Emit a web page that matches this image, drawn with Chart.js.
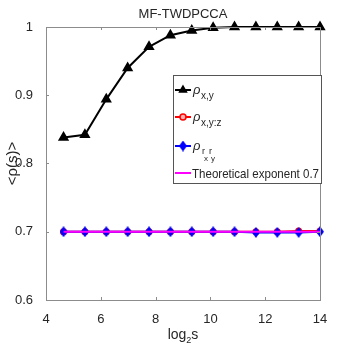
<!DOCTYPE html>
<html>
<head>
<meta charset="utf-8">
<script src="https://cdn.jsdelivr.net/npm/chart.js@4/dist/chart.umd.min.js"></script>
<style>
  html, body { margin: 0; padding: 0; background: #fff; }
  canvas { display: block; }
</style>
</head>
<body>
<canvas id="chart" width="354" height="354"></canvas>
<script>
// log2 of the scale s
const logScale = [4.64, 5.42, 6.20, 6.98, 7.76, 8.54, 9.32, 10.10, 10.88, 11.66, 12.44, 13.22, 14.0];
// <rho(s)> for each pair
const rhoXY = [0.838, 0.842, 0.894, 0.940, 0.971, 0.988, 0.995, 0.999, 1.0, 1.0, 1.0, 1.0, 1.0];
const rhoXYZ = [0.700, 0.700, 0.700, 0.700, 0.700, 0.700, 0.700, 0.700, 0.700, 0.700, 0.700, 0.701, 0.701];
const rhoRxRy = [0.700, 0.700, 0.700, 0.700, 0.700, 0.700, 0.700, 0.700, 0.700, 0.699, 0.699, 0.699, 0.700];
const theoretical = [0.7, 0.7, 0.7, 0.7, 0.7, 0.7, 0.7, 0.7, 0.7, 0.7, 0.7, 0.7, 0.7];

const yTicks = [0.6, 0.7, 0.8, 0.9, 1];
const xTicks = [4, 6, 8, 10, 12, 14];

const FONT = '"Liberation Sans", Arial, sans-serif';
const AXIS_GREY = '#8c8c8c';
const TEXT = '#262626';

const toPoints = (ys) => ys.map((y, i) => ({ x: logScale[i], y }));

// matlab's 'd' marker is taller than wide
function tallDiamond(w, h, color) {
  const c = document.createElement('canvas');
  c.width = w; c.height = h;
  const g = c.getContext('2d');
  g.fillStyle = color;
  g.beginPath();
  g.moveTo(w / 2, 0); g.lineTo(w, h / 2); g.lineTo(w / 2, h); g.lineTo(0, h / 2);
  g.closePath();
  g.fill();
  return c;
}
const blueDiamond = tallDiamond(8, 11, '#0000ff');

// text squeezed to a max width (matlab fonts run narrow)
function fitText(ctx, txt, x, y, maxW) {
  const w = ctx.measureText(txt).width;
  if (w <= maxW) { ctx.fillText(txt, x, y); return; }
  ctx.save();
  ctx.translate(x, y);
  ctx.scale(maxW / w, 1);
  ctx.fillText(txt, 0, 0);
  ctx.restore();
}

// box, inner ticks, titles and legend like the MATLAB figure
const matlabFrame = {
  id: 'matlabFrame',
  afterDraw(chart) {
    const { ctx, chartArea: a, scales } = chart;
    ctx.save();
    ctx.strokeStyle = AXIS_GREY;
    ctx.lineWidth = 1;
    ctx.strokeRect(a.left + 0.5, a.top + 0.5, a.right - a.left, a.bottom - a.top);
    ctx.beginPath();
    xTicks.forEach((v) => {
      const px = Math.round(scales.x.getPixelForValue(v)) + 0.5;
      ctx.moveTo(px, a.bottom); ctx.lineTo(px, a.bottom - 3);
      ctx.moveTo(px, a.top); ctx.lineTo(px, a.top + 3);
    });
    yTicks.forEach((v) => {
      const py = Math.round(scales.y.getPixelForValue(v)) + 0.5;
      ctx.moveTo(a.left, py); ctx.lineTo(a.left + 3, py);
      ctx.moveTo(a.right, py); ctx.lineTo(a.right - 3, py);
    });
    ctx.stroke();

    // title
    const cx = (a.left + a.right) / 2;
    ctx.fillStyle = TEXT;
    ctx.textAlign = 'center';
    ctx.textBaseline = 'middle';
    ctx.font = `13px ${FONT}`;
    ctx.fillText('MF-TWDPCCA', cx, 14);

    // x title log2s
    ctx.textAlign = 'left';
    ctx.textBaseline = 'alphabetic';
    ctx.font = `14px ${FONT}`;
    const w1 = ctx.measureText('log').width;
    ctx.font = `9px ${FONT}`;
    const w2 = ctx.measureText('2').width;
    ctx.font = `14px ${FONT}`;
    const w3 = ctx.measureText('s').width;
    const xs = cx - (w1 + w2 + w3) / 2;
    ctx.fillText('log', xs, 339);
    ctx.font = `9px ${FONT}`;
    ctx.fillText('2', xs + w1, 343);
    ctx.font = `14px ${FONT}`;
    ctx.fillText('s', xs + w1 + w2, 339);

    // y title
    ctx.save();
    ctx.translate(17, (a.top + a.bottom) / 2);
    ctx.rotate(-Math.PI / 2);
    ctx.textAlign = 'center';
    ctx.textBaseline = 'alphabetic';
    ctx.font = `15px ${FONT}`;
    ctx.fillText('<\u03C1(s)>', 0, 0);
    ctx.restore();

    // legend
    const lx = 173, ly = 75, lw = 148, lh = 108;
    ctx.fillStyle = '#fff';
    ctx.fillRect(lx, ly, lw, lh);
    ctx.strokeStyle = '#555';
    ctx.strokeRect(lx + 0.5, ly + 0.5, lw, lh);

    const items = [
      { color: '#000', style: 'triangle', r: 4, y: 90 },
      { color: '#ff0000', style: 'circle', r: 3, y: 117 },
      { color: '#0000ff', style: blueDiamond, r: 4, y: 146 },
      { color: '#ff00ff', style: null, y: 173 },
    ];
    items.forEach((it) => {
      ctx.strokeStyle = it.color;
      ctx.lineWidth = 2;
      ctx.beginPath();
      ctx.moveTo(175, it.y); ctx.lineTo(191, it.y);
      ctx.stroke();
      if (it.style) {
        const opts = { pointStyle: it.style, radius: it.r, borderWidth: 1.5, rotation: 0 };
        ctx.fillStyle = it.style === 'circle' ? '#ffb0b0' : it.color;
        ctx.lineWidth = 1.5;
        Chart.helpers.drawPoint(ctx, opts, 183, it.y);
      }
    });

    ctx.fillStyle = TEXT;
    ctx.textAlign = 'left';
    ctx.textBaseline = 'alphabetic';
    const rho = (y) => {
      ctx.font = `italic 13px ${FONT}`;
      ctx.fillText('\u03C1', 193, y);
    };
    rho(94);
    ctx.font = `10px ${FONT}`;
    ctx.fillText('x,y', 201, 99);
    rho(121);
    ctx.font = `10px ${FONT}`;
    ctx.fillText('x,y:z', 201, 126);
    rho(150);
    ctx.font = `9px ${FONT}`;
    ctx.fillText('r', 202, 154);
    ctx.fillText('r', 209, 154);
    ctx.font = `8px ${FONT}`;
    ctx.fillText('x', 204, 161);
    ctx.fillText('y', 211, 161);
    ctx.font = `13px ${FONT}`;
    fitText(ctx, 'Theoretical exponent 0.7', 192, 178, 127);
    ctx.restore();
  },
};

const config = {
  type: 'line',
  data: {
    datasets: [
      {
        label: 'rho x,y',
        data: toPoints(rhoXY),
        borderColor: '#000',
        backgroundColor: '#000',
        borderWidth: 2,
        pointStyle: 'triangle',
        pointRadius: 4.5,
        clip: false,
        order: 3,
      },
      {
        label: 'rho x,y:z',
        data: toPoints(rhoXYZ),
        borderColor: '#ff0000',
        backgroundColor: '#ff0000',
        borderWidth: 2,
        pointStyle: 'circle',
        pointRadius: 2.5,
        order: 2,
      },
      {
        label: 'rho rx ry',
        data: toPoints(rhoRxRy),
        borderColor: '#0000ff',
        backgroundColor: '#0000ff',
        borderWidth: 2,
        pointStyle: blueDiamond,
        pointRadius: 4.5,
        clip: false,
        order: 1,
      },
      {
        label: 'Theoretical exponent 0.7',
        data: toPoints(theoretical),
        borderColor: '#ff00ff',
        borderWidth: 2,
        pointRadius: 0,
        order: 0,
      },
    ],
  },
  options: {
    responsive: false,
    animation: false,
    devicePixelRatio: 1,
    layout: { padding: { top: 27, right: 34, left: 0, bottom: 0 } },
    plugins: { legend: { display: false }, tooltip: { enabled: false }, title: { display: false } },
    elements: { line: { tension: 0 } },
    scales: {
      x: {
        type: 'linear',
        min: 4,
        max: 14,
        ticks: { stepSize: 2, color: TEXT, font: { family: FONT, size: 13 }, padding: 4, maxRotation: 0 },
        grid: { display: false },
        border: { display: false },
        afterFit: (s) => { s.height = 54; },
      },
      y: {
        min: 0.6,
        max: 1,
        ticks: {
          stepSize: 0.1,
          color: TEXT,
          font: { family: FONT, size: 13 },
          padding: 5,
          callback: (v) => String(Math.round(v * 10) / 10),
        },
        grid: { display: false },
        border: { display: false },
        afterFit: (s) => { s.width = 46; },
      },
    },
  },
  plugins: [matlabFrame],
};

const chart = new Chart(document.getElementById('chart'), config);
</script>
</body>
</html>
